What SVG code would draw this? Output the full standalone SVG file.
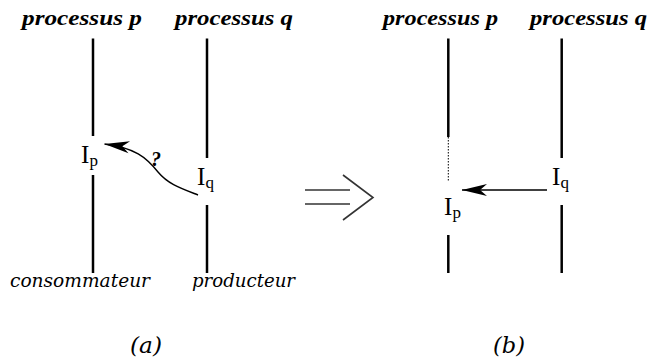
<svg xmlns="http://www.w3.org/2000/svg" width="652" height="362" viewBox="0 0 652 362">
<style>
.title{font-family:"Liberation Serif","Times New Roman",serif;font-weight:bold;font-style:italic;font-size:22px;fill:#000}
.lab{font-family:"DejaVu Serif",serif;font-style:italic;font-size:18.5px;fill:#000}
.cap{font-family:"DejaVu Serif",serif;font-style:italic;font-size:22px;fill:#000}
.ev{font-family:"Liberation Serif","Times New Roman",serif;font-size:25px;fill:#000}
.sub{font-family:"Liberation Serif","Times New Roman",serif;font-size:17px;fill:#000}
.proc{stroke:#000;stroke-width:2.5;fill:none}
.msg{stroke:#000;stroke-width:1.4;fill:none}
.imp{stroke:#333;stroke-width:1.6;fill:none}
</style>
<defs>
<marker id="ah" markerUnits="userSpaceOnUse" markerWidth="30" markerHeight="16" viewBox="-26 -8 30 16" refX="0" refY="0" orient="auto">
<path d="M0,0 L-25,-6 L-18,0 L-25,6 Z" fill="#000"/>
</marker>
</defs>
<g id="title-a-p"><text class="title" x="22" y="25" textLength="120" lengthAdjust="spacingAndGlyphs">processus p</text></g>
<g id="title-a-q"><text class="title" x="175" y="25" textLength="118" lengthAdjust="spacingAndGlyphs">processus q</text></g>
<g id="title-b-p"><text class="title" x="383" y="25" textLength="115" lengthAdjust="spacingAndGlyphs">processus p</text></g>
<g id="title-b-q"><text class="title" x="530" y="25" textLength="117" lengthAdjust="spacingAndGlyphs">processus q</text></g>

<g id="proc-a-p">
<line class="proc" x1="93" y1="38.5" x2="93" y2="136"/>
<line class="proc" x1="93" y1="175" x2="93" y2="273"/>
<text class="ev" x="81" y="163">I</text><text class="sub" x="89.5" y="166">p</text>
<text class="lab" x="10" y="287" textLength="140" lengthAdjust="spacingAndGlyphs">consommateur</text>
</g>
<g id="proc-a-q">
<line class="proc" x1="207" y1="38.5" x2="207" y2="158"/>
<line class="proc" x1="207" y1="205" x2="207" y2="273"/>
<text class="ev" x="197" y="185">I</text><text class="sub" x="205.5" y="188">q</text>
<text class="lab" x="192" y="287" textLength="103" lengthAdjust="spacingAndGlyphs">producteur</text>
</g>
<g id="proc-b-p">
<line class="proc" x1="448.3" y1="38.5" x2="448.3" y2="137"/>
<line stroke="#000" stroke-width="1" stroke-dasharray="1.5,1.5" x1="448.3" y1="137" x2="448.3" y2="182"/>
<line class="proc" x1="448.3" y1="235" x2="448.3" y2="273"/>
<text class="ev" x="444" y="215">I</text><text class="sub" x="452.5" y="218">p</text>
</g>
<g id="proc-b-q">
<line class="proc" x1="561.7" y1="38.5" x2="561.7" y2="158"/>
<line class="proc" x1="561.7" y1="205" x2="561.7" y2="273"/>
<text class="ev" x="552" y="185">I</text><text class="sub" x="560.5" y="188">q</text>
</g>
<g id="connectors">
<path class="msg" d="M198,195 C180,188 168,184 158,172 C146,157 135,148 104.5,144" marker-end="url(#ah)"/>
<text class="title" x="151" y="166" style="font-size:20px">?</text>
<line class="msg" x1="547" y1="190" x2="462" y2="190" marker-end="url(#ah)"/>
<g id="implies">
<line class="imp" x1="305" y1="190" x2="350" y2="190"/>
<line class="imp" x1="305" y1="204" x2="350" y2="204"/>
<polyline class="imp" points="343,175 373,197.5 343,220"/>
</g>
</g>
<g id="cap-a"><text class="cap" x="130" y="353" textLength="32" lengthAdjust="spacingAndGlyphs">(a)</text></g>
<g id="cap-b"><text class="cap" x="493" y="353" textLength="32" lengthAdjust="spacingAndGlyphs">(b)</text></g>
</svg>
